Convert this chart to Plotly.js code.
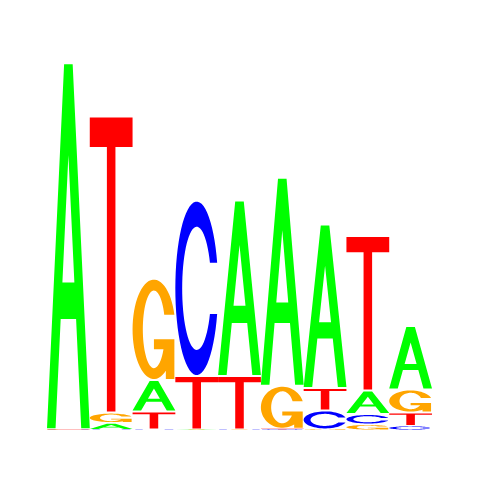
<!DOCTYPE html>
<html>
<head>
<meta charset="utf-8">
<script src="https://cdn.plot.ly/plotly-3.0.1.min.js"></script>
<style>
  html, body { margin: 0; padding: 0; background: #fff; }
  #logo { width: 480px; height: 480px; }
</style>
</head>
<body>
<div id="logo"></div>
<script>
// information content (bits) per base
const positions = [1, 2, 3, 4, 5, 6, 7, 8, 9]
const bases = ['A', 'C', 'G', 'T']
const bitsA = [1.83, 0.0325, 0.1575, 0.001, 0.8775, 1.04, 0.8175, 0.1175, 0.3175]
const bitsC = [0.001, 0.002, 0.002, 0.8775, 0.001, 0.003, 0.095, 0.0525, 0.02]
const bitsG = [0.002, 0.0525, 0.5075, 0.001, 0.001, 0.215, 0.003, 0.0275, 0.115]
const bitsT = [0.001, 1.48, 0.09, 0.2675, 0.2675, 0.003, 0.1125, 0.7725, 0.0675]

const colors = { A: '#00FF00', C: '#0000FF', G: '#FFA500', T: '#FF0000' }

// letter outlines in a unit box (u across, v up)
function ring(rxIn, ryIn) {
    const pts = []
    const n = 60
    const a0 = 0.3
    for (let i = 0; i <= n; i++) {
        const t = a0 + (2 * Math.PI - 2 * a0) * i / n
        pts.push([0.5 + 0.5 * Math.cos(t), 0.5 + 0.5 * Math.sin(t)])
    }
    const cut = 0.5 * Math.sin(a0)
    const a1 = Math.asin(Math.min(1, cut / ryIn))
    for (let i = 0; i <= n; i++) {
        const t = (2 * Math.PI - a1) - (2 * Math.PI - 2 * a1) * i / n
        pts.push([0.5 + rxIn * Math.cos(t), 0.5 + ryIn * Math.sin(t)])
    }
    return pts
}

const glyphs = {
    A: [
        [[0, 0], [0.4, 1], [0.6, 1], [1, 0], [0.8, 0], [0.68, 0.3], [0.32, 0.3], [0.2, 0]],
        [[0.36, 0.4], [0.64, 0.4], [0.5, 0.75]]
    ],
    C: [ring(0.34, 0.355)],
    G: [
        ring(0.26, 0.39),
        [[0.978, 0.4], [0.5, 0.4], [0.5, 0.3], [0.778, 0.3], [0.778, 0], [0.978, 0]]
    ],
    T: [[[0, 1], [1, 1], [1, 0.9], [0.6, 0.9], [0.6, 0], [0.4, 0], [0.4, 0.9], [0, 0.9]]]
}

function letterPath(base, x0, y0, h) {
    return glyphs[base].map(poly =>
        'M' + poly.map(([u, v]) => (x0 + u).toFixed(4) + ',' + (y0 + v * h).toFixed(5)).join('L') + 'Z'
    ).join(' ')
}

const bits = { A: bitsA, C: bitsC, G: bitsG, T: bitsT }
let shapes = []
positions.forEach((p, i) => {
    // smallest at the bottom, tallest on top
    const stack = bases.map(b => [b, bits[b][i]]).sort((a, b) => a[1] - b[1])
    let y = 0
    stack.forEach(([b, h]) => {
        if (h <= 0) return
        // leave a hairline gap between stacked letters
        const pad = Math.min(0.005, h * 0.1)
        shapes.push({
            type: 'path',
            xref: 'x',
            yref: 'y',
            path: letterPath(b, p - 0.5, y + pad, h - 2 * pad),
            fillcolor: colors[b],
            fillrule: b === 'A' ? 'evenodd' : 'nonzero',
            line: { width: 0 },
            layer: 'above'
        })
        y += h
    })
})

let data = [{
    x: positions,
    y: positions.map(() => 0),
    type: 'scatter',
    mode: 'none',
    hoverinfo: 'skip',
    showlegend: false
}]

let layout = {
    width: 480,
    height: 480,
    margin: { l: 47, r: 48, t: 30, b: 50 },
    paper_bgcolor: '#ffffff',
    plot_bgcolor: '#ffffff',
    xaxis: { range: [0.5, 9.5], visible: false, fixedrange: true },
    yaxis: { range: [0, 2], visible: false, fixedrange: true },
    shapes: shapes,
    showlegend: false
}

Plotly.newPlot('logo', data, layout, { staticPlot: true, displayModeBar: false })
</script>
</body>
</html>
